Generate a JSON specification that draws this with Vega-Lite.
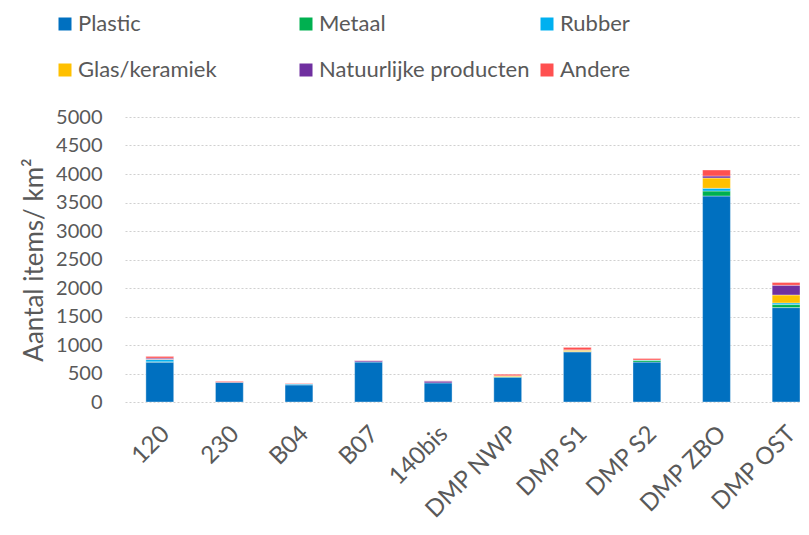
{
  "$schema": "https://vega.github.io/schema/vega-lite/v6.json",
  "autosize": "none",
  "width": 675,
  "height": 285,
  "padding": {"left": 125, "top": 117, "right": 9, "bottom": 133},
  "background": "white",
  "data": {"values": [
    {"site": "120", "cat": "Plastic", "o": 1, "v": 700},
    {"site": "120", "cat": "Metaal", "o": 2, "v": 5},
    {"site": "120", "cat": "Rubber", "o": 3, "v": 40},
    {"site": "120", "cat": "Glas/keramiek", "o": 4, "v": 5},
    {"site": "120", "cat": "Natuurlijke producten", "o": 5, "v": 20},
    {"site": "120", "cat": "Andere", "o": 6, "v": 30},
    {"site": "230", "cat": "Plastic", "o": 1, "v": 345},
    {"site": "230", "cat": "Andere", "o": 6, "v": 17},
    {"site": "B04", "cat": "Plastic", "o": 1, "v": 300},
    {"site": "B04", "cat": "Rubber", "o": 3, "v": 15},
    {"site": "B04", "cat": "Andere", "o": 6, "v": 10},
    {"site": "B07", "cat": "Plastic", "o": 1, "v": 700},
    {"site": "B07", "cat": "Natuurlijke producten", "o": 5, "v": 22},
    {"site": "B07", "cat": "Andere", "o": 6, "v": 4},
    {"site": "140bis", "cat": "Plastic", "o": 1, "v": 335},
    {"site": "140bis", "cat": "Natuurlijke producten", "o": 5, "v": 32},
    {"site": "140bis", "cat": "Andere", "o": 6, "v": 4},
    {"site": "DMP NWP", "cat": "Plastic", "o": 1, "v": 435},
    {"site": "DMP NWP", "cat": "Metaal", "o": 2, "v": 10},
    {"site": "DMP NWP", "cat": "Glas/keramiek", "o": 4, "v": 15},
    {"site": "DMP NWP", "cat": "Andere", "o": 6, "v": 27},
    {"site": "DMP S1", "cat": "Plastic", "o": 1, "v": 880},
    {"site": "DMP S1", "cat": "Rubber", "o": 3, "v": 5},
    {"site": "DMP S1", "cat": "Glas/keramiek", "o": 4, "v": 25},
    {"site": "DMP S1", "cat": "Natuurlijke producten", "o": 5, "v": 5},
    {"site": "DMP S1", "cat": "Andere", "o": 6, "v": 43},
    {"site": "DMP S2", "cat": "Plastic", "o": 1, "v": 700},
    {"site": "DMP S2", "cat": "Metaal", "o": 2, "v": 32},
    {"site": "DMP S2", "cat": "Rubber", "o": 3, "v": 5},
    {"site": "DMP S2", "cat": "Andere", "o": 6, "v": 25},
    {"site": "DMP ZBO", "cat": "Plastic", "o": 1, "v": 3614},
    {"site": "DMP ZBO", "cat": "Metaal", "o": 2, "v": 88},
    {"site": "DMP ZBO", "cat": "Rubber", "o": 3, "v": 47},
    {"site": "DMP ZBO", "cat": "Glas/keramiek", "o": 4, "v": 181},
    {"site": "DMP ZBO", "cat": "Natuurlijke producten", "o": 5, "v": 35},
    {"site": "DMP ZBO", "cat": "Andere", "o": 6, "v": 105},
    {"site": "DMP OST", "cat": "Plastic", "o": 1, "v": 1656},
    {"site": "DMP OST", "cat": "Metaal", "o": 2, "v": 53},
    {"site": "DMP OST", "cat": "Rubber", "o": 3, "v": 29},
    {"site": "DMP OST", "cat": "Glas/keramiek", "o": 4, "v": 140},
    {"site": "DMP OST", "cat": "Natuurlijke producten", "o": 5, "v": 170},
    {"site": "DMP OST", "cat": "Andere", "o": 6, "v": 47}
  ]},
  "mark": {"type": "bar", "stroke": "white", "strokeWidth": 0.6, "strokeOpacity": 0.6},
  "encoding": {
    "x": {
      "field": "site", "type": "nominal",
      "sort": ["120", "230", "B04", "B07", "140bis", "DMP NWP", "DMP S1", "DMP S2", "DMP ZBO", "DMP OST"],
      "scale": {"paddingInner": 0.6, "paddingOuter": 0.15, "align": 1},
      "axis": {
        "title": null, "labelAngle": -45, "labelFontSize": 24, "labelColor": "#595959",
        "labelFont": "Lato", "domain": false, "ticks": false, "labelPadding": 28,
        "labelOffset": 6, "labelAlign": "right", "labelBaseline": "middle"
      }
    },
    "y": {
      "field": "v", "type": "quantitative", "stack": "zero",
      "scale": {"domain": [0, 5000]},
      "axis": {
        "title": "Aantal items/ km²", "titleFontSize": 26, "titleFont": "Lato",
        "titleFontWeight": "normal", "titleColor": "#595959", "titlePadding": 8,
        "values": [0, 500, 1000, 1500, 2000, 2500, 3000, 3500, 4000, 4500, 5000],
        "format": "d",
        "labelFontSize": 20, "labelFont": "Lato", "labelColor": "#595959",
        "domain": false, "ticks": false, "labelPadding": 23,
        "gridColor": "#d0d0d0", "gridDash": [2, 2], "gridWidth": 1.2
      }
    },
    "color": {
      "field": "cat", "type": "nominal",
      "scale": {
        "domain": ["Plastic", "Metaal", "Rubber", "Glas/keramiek", "Natuurlijke producten", "Andere"],
        "range": ["#0070C0", "#00B050", "#00B0F0", "#FFC000", "#7030A0", "#FF5050"]
      },
      "legend": {
        "title": null, "orient": "none", "legendX": -71, "legendY": -104,
        "columns": 3, "direction": "horizontal",
        "symbolType": "square", "symbolSize": 169, "symbolStrokeWidth": 0,
        "labelFontSize": 22, "labelFont": "Lato", "labelColor": "#595959",
        "labelOffset": 2, "labelLimit": 400,
        "gridAlign": "all", "columnPadding": 6, "rowPadding": 24
      }
    },
    "order": {"field": "o", "type": "quantitative"}
  },
  "config": {"view": {"stroke": null}}
}
